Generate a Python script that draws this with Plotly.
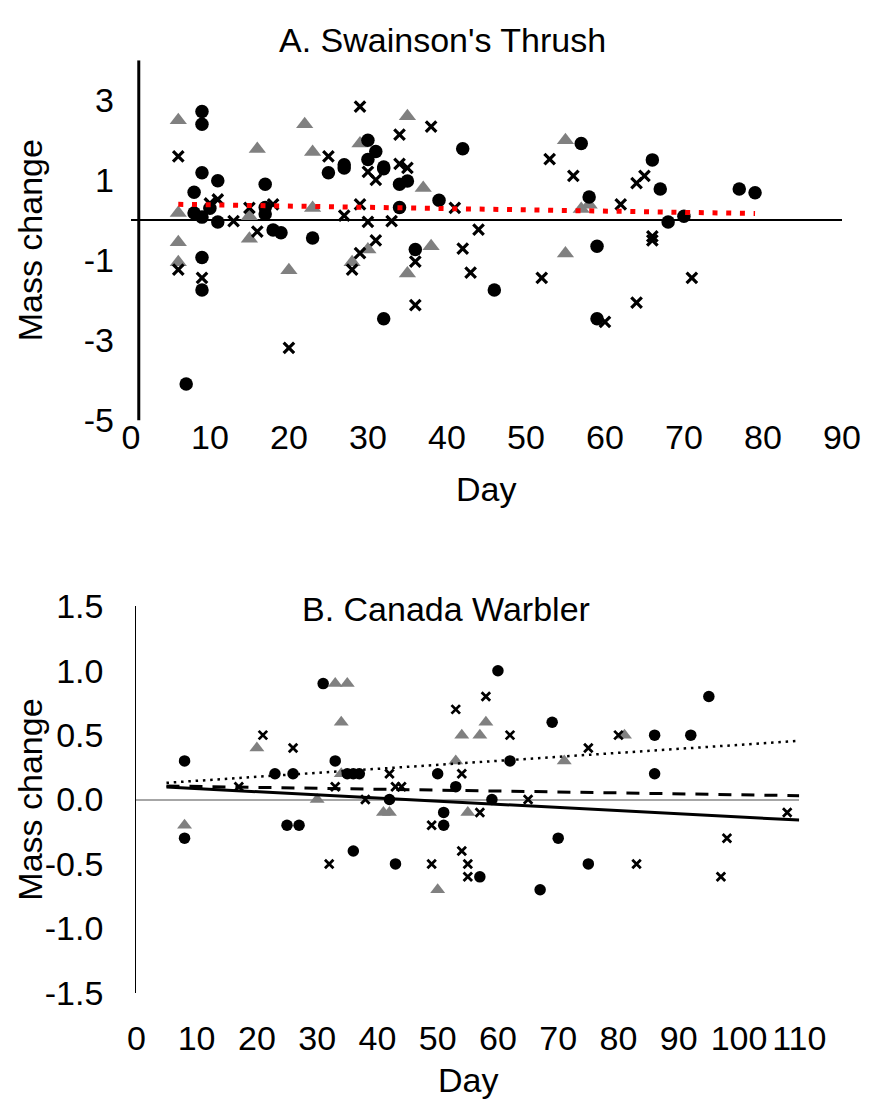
import numpy as np
import plotly.graph_objects as go

W, H = 892, 1118
FONT = "Liberation Sans, Arial, sans-serif"
FS = 34

# ---------------- Panel A: Swainson's Thrush ----------------
a_circle_day = [9, 9, 30, 30, 27, 27, 25, 9, 11, 8, 17, 10, 8, 9, 11, 17, 17, 18, 19, 23,
                9, 9, 7, 32, 36, 31, 32, 32, 34, 35, 42, 39, 34, 57, 58, 59, 46, 59, 68, 70,
                66, 67, 77, 79]
a_circle_mass = [2.72, 2.40, 2.00, 1.52, 1.39, 1.31, 1.19, 1.19, 0.99, 0.70, 0.90, 0.30, 0.18, 0.08,
                 -0.04, 0.32, 0.16, -0.24, -0.31, -0.44, -0.93, -1.74, -4.09, -2.46, -0.73, 1.72,
                 1.33, 1.29, 0.90, 0.98, 1.79, 0.50, 0.32, 1.92, 0.58, -0.65, -1.74, -2.46, -0.04,
                 0.10, 1.51, 0.78, 0.78, 0.69]

a_cross_day = [6, 25, 29, 30, 11, 10, 13, 15, 18, 16, 27, 29, 30, 6, 9, 20, 33, 31, 29, 28,
               36, 36, 42, 44, 43, 38, 34, 34, 35, 31, 41, 53, 56, 52, 64, 60, 71, 66, 66, 62,
               65, 64]
a_cross_mass = [1.60, 1.60, 2.84, 1.21, 0.52, 0.42, -0.02, 0.31, 0.40, -0.28, 0.12, 0.40, -0.04,
                -1.23, -1.44, -3.19, -0.02, -0.50, -0.82, -1.23, -1.03, -2.12, -0.71, -0.23, -1.31,
                2.34, 2.14, 1.41, 1.31, 1.01, 0.31, 1.53, 1.11, -1.44, -2.06, -2.54, -1.44, -0.40,
                -0.50, 0.40, 1.11, 0.93]

a_tri_day = [6, 16, 22, 23, 29, 6, 15, 23, 6, 15, 6, 20, 30, 28, 38, 35, 35, 37, 55, 57, 58, 55]
a_tri_mass = [2.50, 1.78, 2.40, 1.71, 1.92, 0.18, 0.10, 0.31, -0.55, -0.46, -1.05, -1.25, -0.73,
              -1.05, -0.65, -1.33, 2.60, 0.81, 2.00, 0.28, 0.39, -0.83]

a_trend_days = [6, 79]
a_trend_intercept = 0.419
a_trend_slope = -0.00315

a_xticks = list(range(0, 91, 10))
a_yticks = [-5, -3, -1, 1, 3]
a_yticklabels = ["-5", "-3", "-1", "1", "3"]
a_yaxis_cross_day = 1

# ---------------- Panel B: Canada Warbler ----------------
b_circle_day = [8, 8, 23, 26, 31, 33, 35, 36, 37, 25, 27, 36, 60, 69, 62, 50, 53, 42, 59, 51,
                51, 70, 43, 75, 95, 86, 92, 86, 57, 67]
b_circle_mass = [0.3, -0.3, 0.2, 0.2, 0.9, 0.3, 0.2, 0.2, 0.2, -0.2, -0.2, -0.4, 1.0, 0.6, 0.3,
                 0.2, 0.1, 0.0, 0.0, -0.1, -0.2, -0.3, -0.5, -0.5, 0.8, 0.5, 0.5, 0.2, -0.6, -0.7]

b_cross_day = [21, 26, 17, 33, 38, 32, 58, 53, 62, 75, 42, 54, 43, 44, 65, 57, 49, 54, 49, 55,
               80, 108, 98, 83, 55, 97]
b_cross_mass = [0.5, 0.4, 0.1, 0.1, 0.0, -0.5, 0.8, 0.7, 0.5, 0.4, 0.2, 0.2, 0.1, 0.1, 0.0, -0.1,
                -0.2, -0.4, -0.5, -0.5, 0.5, -0.1, -0.3, -0.5, -0.6, -0.6]

b_tri_day = [8, 20, 33, 35, 34, 34, 30, 58, 54, 57, 71, 53, 41, 42, 55, 81, 50]
b_tri_mass = [-0.2, 0.4, 0.9, 0.9, 0.6, 0.2, 0.0, 0.6, 0.5, 0.5, 0.3, 0.3, -0.1, -0.1, -0.1, 0.5, -0.7]

b_trend_days = [5, 110]
b_trend_dotted = (0.1145, 0.0031)    # (intercept, slope)
b_trend_dashed = (0.1086, -0.000714)
b_trend_solid = (0.110, -0.00245)

b_xticks = list(range(0, 111, 10))
b_yticks = [-1.5, -1.0, -0.5, 0.0, 0.5, 1.0, 1.5]
b_yticklabels = ["-1.5", "-1.0", "-0.5", "0.0", "0.5", "1.0", "1.5"]

# ---------------- layout geometry (page pixels) ----------------
A_L, A_R, A_T, A_B = 127, 868, 42.7, 415.5
B_L, B_R, B_T, B_B = 132.7, 823.5, 608, 1008

def px(x):
    return x / W

def py(y):
    return 1 - y / H

def xd(l, r):
    return [px(l), px(r)]

def yd(t, b):
    return [py(b), py(t)]

BLACK = "#000000"
GREY = "#808080"

fig = go.Figure()

def add_points(xs, ys, kind, xa, ya, big):
    if kind == "tri":
        m = dict(symbol="triangle-up", size=15 if big else 13, color=GREY, line=dict(width=0))
    elif kind == "circ":
        m = dict(symbol="circle", size=13.5 if big else 11.5, color=BLACK, line=dict(width=0))
    else:
        m = dict(symbol="x-thin", size=10.5 if big else 8.5, color=BLACK,
                 line=dict(width=3.2 if big else 2.8, color=BLACK))
    fig.add_trace(go.Scatter(x=xs, y=ys, mode="markers", marker=m, xaxis=xa, yaxis=ya,
                             showlegend=False, hoverinfo="skip"))

add_points(a_tri_day, a_tri_mass, "tri", "x", "y", True)
add_points(a_circle_day, a_circle_mass, "circ", "x", "y", True)
add_points(a_cross_day, a_cross_mass, "x", "x", "y", True)
a_tx = np.array(a_trend_days, dtype=float)
fig.add_trace(go.Scatter(x=a_tx, y=a_trend_intercept + a_trend_slope * a_tx, mode="lines",
                         line=dict(color="#ff0000", width=5, dash="5px,8.7px"),
                         xaxis="x", yaxis="y", showlegend=False, hoverinfo="skip"))

add_points(b_tri_day, b_tri_mass, "tri", "x2", "y2", False)
add_points(b_circle_day, b_circle_mass, "circ", "x2", "y2", False)
add_points(b_cross_day, b_cross_mass, "x", "x2", "y2", False)
b_tx = np.array(b_trend_days, dtype=float)
for (ic, sl), dash, wd in [(b_trend_dotted, "2.5px,4.8px", 2.5),
                           (b_trend_dashed, "13px,10px", 3),
                           (b_trend_solid, "solid", 3)]:
    fig.add_trace(go.Scatter(x=b_tx, y=ic + sl * b_tx, mode="lines",
                             line=dict(color=BLACK, width=wd, dash=dash),
                             xaxis="x2", yaxis="y2", showlegend=False, hoverinfo="skip"))

tickfont = dict(family=FONT, size=FS, color=BLACK)

def ann(text, x, y, angle=0):
    return dict(text=text, x=px(x), y=py(y), xref="paper", yref="paper", showarrow=False,
                xanchor="center", yanchor="middle", textangle=angle, font=dict(size=FS))

fig.update_layout(
    width=W, height=H, margin=dict(l=0, r=0, t=0, b=0),
    paper_bgcolor="white", plot_bgcolor="white",
    font=dict(family=FONT, size=FS, color=BLACK),
    xaxis=dict(domain=xd(A_L, A_R), range=[0, 90], tickvals=a_xticks, anchor="y",
               showgrid=False, zeroline=False, showline=False, ticks="",
               ticklabelstandoff=-6, tickfont=tickfont),
    yaxis=dict(domain=yd(A_T, A_B), range=[-5, 4], tickvals=a_yticks, ticktext=a_yticklabels,
               anchor="x", showgrid=False, zeroline=True, zerolinecolor=BLACK, zerolinewidth=1.5,
               showline=False, ticks="", ticklabelstandoff=16, tickfont=tickfont),
    xaxis2=dict(domain=xd(B_L, B_R), range=[0, 110], tickvals=b_xticks, anchor="y2",
                showgrid=False, zeroline=False, showline=False, ticks="",
                ticklabelstandoff=22, tickfont=tickfont),
    yaxis2=dict(domain=yd(B_T, B_B), range=[-1.5, 1.5], tickvals=b_yticks, ticktext=b_yticklabels,
                anchor="x2", showgrid=False, zeroline=True, zerolinecolor="#a6a6a6",
                zerolinewidth=1.5, showline=True, linecolor=BLACK, linewidth=1.3,
                ticks="", ticklabelstandoff=25, tickfont=tickfont),
    shapes=[dict(type="line", xref="x", yref="y", x0=a_yaxis_cross_day, x1=a_yaxis_cross_day,
                 y0=-5, y1=4, line=dict(color=BLACK, width=3))],
    annotations=[
        ann("A. Swainson's Thrush", 452, 22),
        ann("Day", (A_L + A_R) / 2, 487),
        ann("Mass change", 22, 229, -90),
        ann("B. Canada Warbler", 455, 611),
        ann("Day", (B_L + B_R) / 2, 1098),
        ann("Mass change", 21, 808, -90),
    ],
)

fig.write_html(
    "out.html",
    post_script="document.body.style.margin='0';document.body.style.overflow='hidden';",
)
